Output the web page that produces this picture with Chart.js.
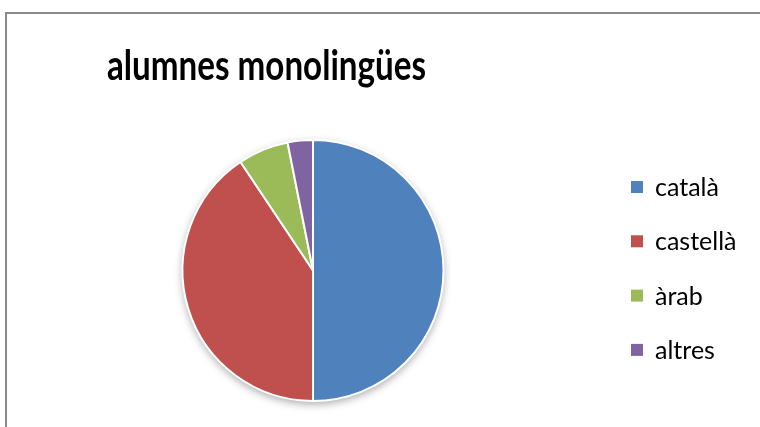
<!DOCTYPE html>
<html>
<head>
<meta charset="utf-8">
<script src="https://cdn.jsdelivr.net/npm/chart.js@4.4.1/dist/chart.umd.min.js"></script>
<style>
  html, body { margin: 0; padding: 0; background: #fff; }
  #wrap { position: relative; width: 760px; height: 427px; overflow: hidden; }
  #frame { position: absolute; left: 5px; top: 12px; width: 800px; height: 500px;
           border-left: 2px solid #8a8a8a; border-top: 2px solid #8a8a8a; }
  #title { position: absolute; left: 0; top: 36px; width: 533px; text-align: center;
           font-family: Lato, "Open Sans", sans-serif; font-weight: bold; font-size: 42px;
           line-height: 56px; color: #000; transform: scaleX(0.79); transform-origin: 266.5px 50%; }
  canvas { position: absolute; left: 0; top: 0; }
</style>
</head>
<body>
<div id="wrap">
  <div id="frame"></div>
  <canvas id="c" width="760" height="427"></canvas>
  <div id="title">alumnes monolingües</div>
</div>
<script>
const titleText = "alumnes monolingües";
const categories = ["català", "castellà", "àrab", "altres"];
const values = [16, 13, 2, 1];
const colors = ["#4F81BD", "#C0504D", "#9BBB59", "#8064A2"];

const shadowPlugin = {
  id: 'pieShadow',
  beforeDatasetsDraw(chart) {
    const arc = chart.getDatasetMeta(0).data[0];
    if (!arc) return;
    const ctx = chart.ctx;
    ctx.save();
    ctx.shadowColor = 'rgba(0,0,0,0.35)';
    ctx.shadowBlur = 8;
    ctx.shadowOffsetY = 3;
    ctx.beginPath();
    ctx.arc(arc.x, arc.y, arc.outerRadius, 0, Math.PI * 2);
    ctx.fillStyle = '#fff';
    ctx.fill();
    ctx.restore();
  }
};

const legendPlugin = {
  id: 'sideLegend',
  afterDraw(chart) {
    const ctx = chart.ctx;
    const labels = chart.data.labels;
    const bg = chart.data.datasets[0].backgroundColor;
    ctx.save();
    ctx.font = '25px Lato, "Open Sans", sans-serif';
    ctx.textBaseline = 'middle';
    ctx.fillStyle = '#000';
    const x0 = 631, y0 = 187, step = 54.3;
    labels.forEach((lab, i) => {
      const cy = y0 + i * step;
      ctx.fillStyle = bg[i];
      ctx.fillRect(x0, cy - 6, 12, 12);
      ctx.fillStyle = '#000';
      ctx.fillText(lab, x0 + 24, cy + 1);
    });
    ctx.restore();
  }
};

new Chart(document.getElementById('c'), {
  type: 'pie',
  data: {
    labels: categories,
    datasets: [{
      data: values,
      backgroundColor: colors,
      borderColor: '#ffffff',
      borderWidth: 2
    }]
  },
  options: {
    responsive: false,
    animation: false,
    layout: { padding: { left: 0, right: 134, top: 139, bottom: 25 } },
    plugins: {
      legend: { display: false },
      title: { display: false },
      tooltip: { enabled: false }
    }
  },
  plugins: [shadowPlugin, legendPlugin]
});
</script>
</body>
</html>
